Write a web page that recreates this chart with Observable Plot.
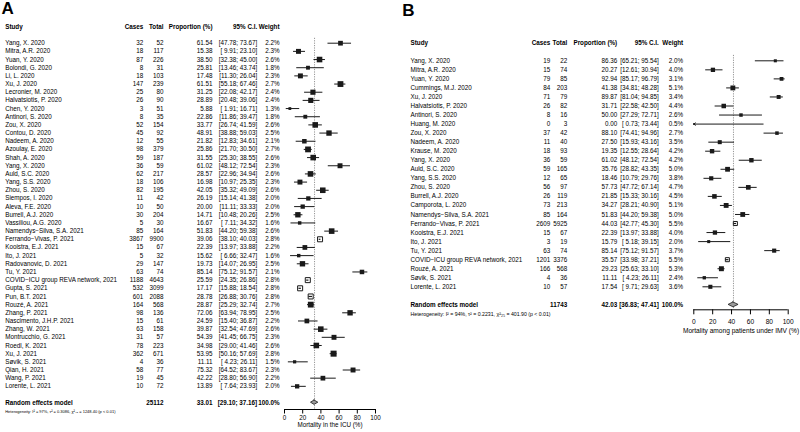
<!DOCTYPE html>
<html><head><meta charset="utf-8">
<script src="https://cdn.jsdelivr.net/npm/d3@7"></script>
<script src="https://cdn.jsdelivr.net/npm/@observablehq/plot@0.6"></script>
<style>
body{margin:0;background:#fff}
#wrap{display:flex;width:800px;height:432px;overflow:hidden}
</style>
</head><body><div id="wrap"></div>
<script>
// ---------- Panel A data ----------
const studiesA = ["Yang, X. 2020","Mitra, A.R. 2020","Yuan, Y. 2020","Bolondi, G. 2020","Li, L. 2020","Xu, J. 2020","Lecronier, M. 2020","Halvatsiotis, P. 2020","Chen, Y. 2020","Antinori, S. 2020","Zou, X. 2020","Contou, D. 2020","Nadeem, A. 2020","Azoulay, E. 2020","Shah, A. 2020","Yang, X. 2020","Auld, S.C. 2020","Yang, S.S. 2020","Zhou, S. 2020","Siempos, I. 2020","Aleva, F.E. 2020","Burrell, A.J. 2020","Vassiliou, A.G. 2020","Namendys\u2212Silva, S.A. 2021","Ferrando\u2212Vivas, P. 2021","Kooistra, E.J. 2021","Ito, J. 2021","Radovanovic, D. 2021","Tu, Y. 2021","COVID\u2212ICU group REVA network, 2021","Gupta, S. 2021","Pun, B.T. 2021","Rouzé, A. 2021","Zhang, P. 2021","Nascimento, J.H.P. 2021","Zhang, W. 2021","Montrucchio, G. 2021","Roedl, K. 2021","Xu, J. 2021","Søvik, S. 2021","Qian, H. 2021","Wang, P. 2021","Lorente, L. 2021"];
const casesA = [32,18,87,8,18,147,25,26,3,8,52,45,12,98,59,36,62,18,82,11,10,30,5,85,3867,15,5,29,63,1188,532,601,164,98,15,63,31,78,362,4,58,19,10];
const totalA = [52,117,226,31,103,239,80,90,51,35,154,92,55,379,187,59,217,106,195,42,50,204,30,164,9900,67,32,147,74,4643,3099,2088,568,136,61,158,57,223,671,36,77,45,72];
const propA = [61.54,15.38,38.50,25.81,17.48,61.51,31.25,28.89,5.88,22.86,33.77,48.91,21.82,25.86,31.55,61.02,28.57,16.98,42.05,26.19,20.00,14.71,16.67,51.83,39.06,22.39,15.62,19.73,85.14,25.59,17.17,28.78,28.87,72.06,24.59,39.87,54.39,34.98,53.95,11.11,75.32,42.22,13.89];
const lowerA = [47.78,9.91,32.38,13.46,11.30,55.18,22.08,20.48,1.91,11.86,26.74,38.88,12.83,21.70,25.30,48.12,22.96,10.97,35.32,15.14,11.11,10.48,7.11,44.20,38.10,13.97,6.66,14.07,75.12,24.35,15.88,26.88,25.29,63.94,15.40,32.54,41.45,29.00,50.16,4.23,64.52,28.80,7.64];
const upperA = [73.67,23.10,45.00,43.74,26.04,67.46,42.17,39.06,16.71,39.47,41.59,59.03,34.61,30.50,38.55,72.54,34.94,25.35,49.09,41.38,33.33,20.26,34.32,59.38,40.03,33.88,32.47,26.95,91.57,26.86,18.54,30.76,32.74,78.95,36.87,47.69,66.75,41.46,57.69,26.11,83.67,56.90,23.93];
const weightA = [2.2,2.3,2.6,1.8,2.3,2.7,2.4,2.4,1.3,1.8,2.6,2.5,2.1,2.7,2.6,2.3,2.6,2.3,2.6,2.0,2.0,2.5,1.6,2.6,2.8,2.2,1.6,2.5,2.1,2.8,2.8,2.8,2.7,2.5,2.2,2.6,2.3,2.6,2.8,1.5,2.3,2.2,2.0];
const pooledA = [25112, 33.01, 29.10, 37.16, 100.0]; // total, estimate, lower, upper, weight
const hetA = "Heterogeneity: I\u00B2 = 97%, \u03C4\u00B2 = 0.3086, \u03C7\u00B2\u2084\u2082 = 1248.40 (p < 0.01)";
const xLabelA = "Mortality in the ICU (%)";

// ---------- Panel B data ----------
const studiesB = ["Yang, X. 2020","Mitra, A.R. 2020","Yuan, Y. 2020","Cummings, M.J. 2020","Xu, J. 2020","Halvatsiotis, P. 2020","Antinori, S. 2020","Huang, M. 2020","Zou, X. 2020","Nadeem, A. 2020","Krause, M. 2020","Yang, X. 2020","Auld, S.C. 2020","Yang, S.S. 2020","Zhou, S. 2020","Burrell, A.J. 2020","Camporota, L. 2020","Namendys\u2212Silva, S.A. 2021","Ferrando\u2212Vivas, P. 2021","Kooistra, E.J. 2021","Ito, J. 2021","Tu, Y. 2021","COVID\u2212ICU group REVA network, 2021","Rouzé, A. 2021","Søvik, S. 2021","Lorente, L. 2021"];
const casesB = [19,15,79,84,71,26,8,0,37,11,18,36,59,12,56,26,73,85,2609,15,3,63,1201,166,4,10];
const totalB = [22,74,85,203,79,82,16,3,42,40,93,59,165,65,97,119,213,164,5925,67,19,74,3376,568,36,57];
const propB = [86.36,20.27,92.94,41.38,89.87,31.71,50.00,0.00,88.10,27.50,19.35,61.02,35.76,18.46,57.73,21.85,34.27,51.83,44.03,22.39,15.79,85.14,35.57,29.23,11.11,17.54];
const lowerB = [65.21,12.61,85.17,34.81,81.04,22.58,27.29,0.73,74.41,15.93,12.55,48.12,28.82,10.79,47.72,15.33,28.21,44.20,42.77,13.97,5.18,75.12,33.98,25.63,4.23,9.71];
const upperB = [95.54,30.94,96.79,48.28,94.85,42.50,72.71,73.44,94.96,43.16,28.64,72.54,43.35,29.76,67.14,30.16,40.90,59.38,45.30,33.88,39.15,91.57,37.21,33.10,26.11,29.63];
const weightB = [2.0,4.0,3.1,5.1,3.4,4.4,2.6,0.5,2.7,3.5,4.2,4.2,5.0,3.8,4.7,4.5,5.1,5.0,5.5,4.0,2.0,3.7,5.5,5.3,2.4,3.6];
const pooledB = [11743, 42.03, 36.83, 47.41, 100.0];
const hetB = "Heterogeneity: I\u00B2 = 94%, \u03C4\u00B2 = 0.2231, \u03C7\u00B2\u2082\u2085 = 401.90 (p < 0.01)";
const xLabelB = "Mortality among patients under IMV (%)";

// ---------- shared labels ----------
const headers = ["Study","Cases","Total","Proportion (%)","95% C.I.","Weight"];
const pooledLabel = "Random effects model";
const xTicks = [0,20,40,60,80,100];

const fmtCI = (lo, hi) => "[" + (lo < 10 ? " " : "") + lo.toFixed(2) + "; " + hi.toFixed(2) + "]";
const font = "'Liberation Sans', Arial, Helvetica, sans-serif";

function panel(c) {
  const dom = [xTicks[0], xTicks[xTicks.length - 1]];
  const pxPerUnit = (c.xRange[1] - c.xRange[0]) / (dom[1] - dom[0]);
  const rows = c.studies.map((s, i) => {
    const side = c.boxSide(c.weight[i]);
    return {
      i, study: s, cases: c.cases[i], total: c.total[i], est: c.prop[i],
      lo: c.lower[i], hi: c.upper[i], w: c.weight[i], side,
      hollow: side > (c.upper[i] - c.lower[i]) * pxPerUnit,
      arrow: c.prop[i] <= dom[0]
    };
  });
  const n = rows.length;
  const iHdr = -2, iRand = n + 1, iHet = n + 2.1;
  const yTop = -c.rowY0 / c.rowStep, yBot = (c.axisY - c.rowY0) / c.rowStep;
  const [pT, pE, pL, pH, pW] = c.pooled;
  const anchors = ["start","end","end","end","end","end"];
  const colText = [
    d => d.study, d => String(d.cases), d => String(d.total),
    d => d.est.toFixed(2), d => fmtCI(d.lo, d.hi), d => d.w.toFixed(1) + "%"
  ];
  const fs = c.fontSize;
  const marks = [];
  marks.push(Plot.text([c.letter], {frameAnchor: "top-left", dx: c.letterX, dy: c.letterDy, lineAnchor: "top", fontSize: 17, fontWeight: "bold", fill: "black"}));
  headers.forEach((h, k) => marks.push(Plot.text([h], {y: () => iHdr, frameAnchor: "left", dx: c.colX[k], textAnchor: anchors[k], fontSize: fs, fontWeight: "bold", fill: "black"})));
  colText.forEach((t, k) => marks.push(Plot.text(rows, {y: "i", text: t, frameAnchor: "left", dx: c.colX[k], textAnchor: anchors[k], fontSize: fs, fill: "black"})));
  const pooledRow = [{i: iRand}];
  marks.push(Plot.text(pooledRow, {y: "i", text: () => pooledLabel, frameAnchor: "left", dx: c.colX[0], textAnchor: "start", fontSize: fs, fontWeight: "bold", fill: "black"}));
  marks.push(Plot.text(pooledRow, {y: "i", text: () => String(pT), frameAnchor: "left", dx: c.colX[2], textAnchor: "end", fontSize: fs, fontWeight: "bold", fill: "black"}));
  marks.push(Plot.text(pooledRow, {y: "i", text: () => pE.toFixed(2), frameAnchor: "left", dx: c.colX[3], textAnchor: "end", fontSize: fs, fontWeight: "bold", fill: "black"}));
  marks.push(Plot.text(pooledRow, {y: "i", text: () => fmtCI(pL, pH), frameAnchor: "left", dx: c.colX[4], textAnchor: "end", fontSize: fs, fontWeight: "bold", fill: "black"}));
  marks.push(Plot.text(pooledRow, {y: "i", text: () => pW.toFixed(1) + "%", frameAnchor: "left", dx: c.colX[5], textAnchor: "end", fontSize: fs, fontWeight: "bold", fill: "black"}));
  marks.push(Plot.text([c.het], {y: () => iHet, frameAnchor: "left", dx: c.colX[0], textAnchor: "start", fontSize: c.hetSize, fill: "black"}));
  marks.push(Plot.ruleX([pE], {y1: -0.6, y2: yBot, stroke: "#8a8a8a", strokeWidth: 0.9, strokeDasharray: "1.2,1.2"}));
  marks.push(Plot.ruleY(rows.filter(d => !d.arrow), {y: "i", x1: "lo", x2: "hi", stroke: "#1a1a1a", strokeWidth: 1}));
  marks.push(Plot.arrow(rows.filter(d => d.arrow), {x1: "hi", y1: "i", x2: () => dom[0], y2: "i", stroke: "#1a1a1a", strokeWidth: 1, headLength: 3, headAngle: 70}));
  marks.push(Plot.dot(rows.filter(d => !d.hollow), {x: "est", y: "i", r: d => d.side / Math.sqrt(Math.PI), symbol: "square", fill: "#1a1a1a", stroke: "none"}));
  marks.push(Plot.dot(rows.filter(d => d.hollow), {x: "est", y: "i", r: d => (d.side - 1) / Math.sqrt(Math.PI), symbol: "square", fill: "white", stroke: "#1a1a1a", strokeWidth: 1}));
  marks.push(Plot.ruleY(rows.filter(d => d.hollow), {y: "i", x1: "lo", x2: "hi", stroke: "#1a1a1a", strokeWidth: 1.2}));
  const h = 0.27;
  marks.push(Plot.areaX([{y: iRand - h, a: pE, b: pE}, {y: iRand, a: pL, b: pH}, {y: iRand + h, a: pE, b: pE}],
    {y: "y", x1: "a", x2: "b", fill: "#9a9a9a", stroke: "#1a1a1a", strokeWidth: 0.8}));
  marks.push(Plot.ruleY([yBot], {x1: () => dom[0], x2: () => dom[1], stroke: "black", strokeWidth: 1}));
  marks.push(Plot.axisX({ticks: xTicks, tickSize: c.tickSize, tickPadding: c.tickPad, fontSize: c.axisFont, label: null, tickFormat: d => String(d), stroke: "black", fill: "black"}));
  marks.push(Plot.text([c.xLabel], {x: () => (dom[0] + dom[1]) / 2, frameAnchor: "bottom", dy: c.titleDy, fontSize: c.axisFont, fill: "black"}));

  return Plot.plot({
    width: 400, height: 432,
    marginTop: 0, marginLeft: 0, marginRight: 0, marginBottom: 432 - c.axisY,
    x: {domain: dom, range: c.xRange},
    y: {domain: [yTop, yBot], range: [0, c.axisY], axis: null},
    r: {type: "identity"},
    style: {fontFamily: font, background: "white", color: "black", overflow: "visible"},
    marks
  });
}

const wrap = document.getElementById("wrap");
wrap.append(panel({
  letter: "A", letterX: 1, letterDy: 1,
  studies: studiesA, cases: casesA, total: totalA, prop: propA, lower: lowerA, upper: upperA, weight: weightA,
  pooled: pooledA, het: hetA, xLabel: xLabelA,
  colX: [4.7, 142.7, 163, 212, 256.7, 279],
  xRange: [284, 375], rowY0: 42.7, rowStep: 8.17, axisY: 409,
  tickSize: 4.5, tickPad: 2, titleDy: 17, fontSize: 6.3, hetSize: 4, axisFont: 6.3,
  boxSide: w => 2.15 * w
}));
wrap.append(panel({
  letter: "B", letterX: 1.7, letterDy: 3,
  studies: studiesB, cases: casesB, total: totalB, prop: propB, lower: lowerB, upper: upperB, weight: weightB,
  pooled: pooledB, het: hetB, xLabel: xLabelB,
  colX: [10, 149.7, 166.7, 216.7, 258.3, 282.7],
  xRange: [293.3, 387.7], rowY0: 60.3, rowStep: 9.04, axisY: 309.3,
  tickSize: 5, tickPad: 4.5, titleDy: 22.7, fontSize: 6.3, hetSize: 5.2, axisFont: 6.6,
  boxSide: w => 2.15 * Math.sqrt(w)
}));
</script>
</body></html>
